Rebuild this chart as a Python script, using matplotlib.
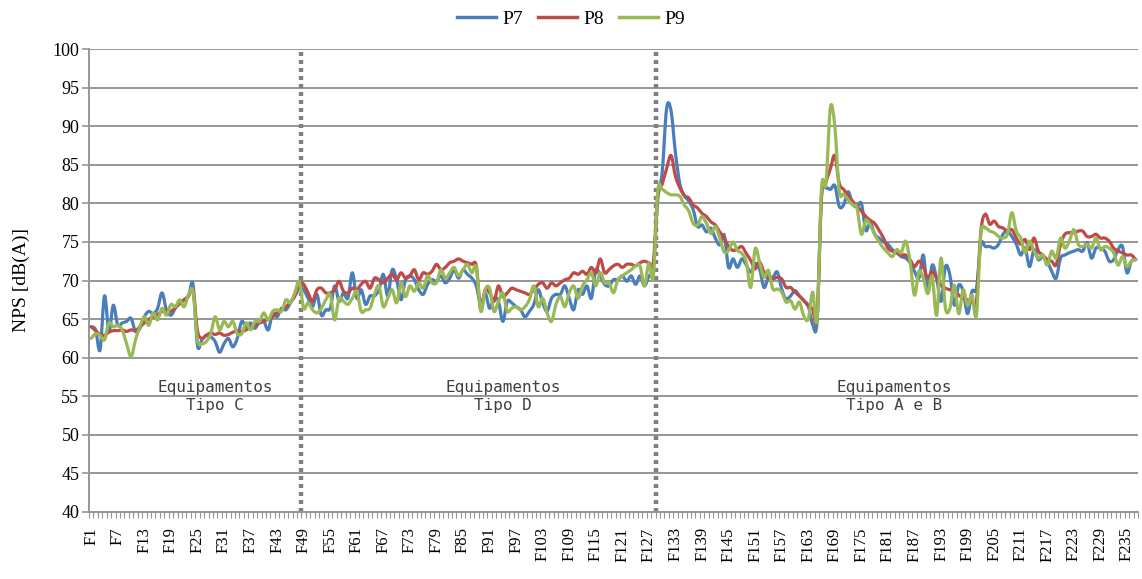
import numpy as np
import matplotlib
matplotlib.use("Agg")
import matplotlib.pyplot as plt
from matplotlib.path import Path
from matplotlib.patches import PathPatch
from matplotlib.lines import Line2D

categories = [f"F{i}" for i in range(1, 238)]

p7 = [
    64.0, 63.6, 61.0, 68.0, 63.4, 66.8, 64.2, 64.5, 64.7, 65.1,
    63.4, 63.8, 65.3, 66.0, 65.7, 66.4, 68.4, 66.2, 65.5, 66.4,
    67.1, 67.5, 68.0, 69.5, 61.6, 62.3, 62.9, 62.7, 62.1, 60.7,
    61.8, 62.5, 61.4, 62.5, 64.7, 64.0, 64.5, 63.8, 64.7, 64.7,
    63.6, 65.8, 65.3, 66.4, 66.2, 67.1, 68.0, 69.0,
    68.8, 67.7, 66.6, 68.2, 65.5, 66.2, 66.4, 69.3, 67.3, 68.4,
    67.7, 71.0, 67.7, 68.8, 66.9, 68.0, 68.0, 68.8, 70.8, 68.0,
    71.4, 70.1, 67.5, 70.1, 70.6, 70.1, 68.8, 68.2, 69.5, 70.1,
    69.9, 70.6, 69.7, 70.3, 71.4, 70.3, 71.4, 70.8, 70.3, 69.3,
    66.9, 68.4, 66.4, 67.7, 67.3, 64.7, 67.3, 67.1, 66.6, 66.2,
    65.3, 66.0, 66.9, 68.8, 67.1, 66.0, 67.7, 68.2, 68.2, 69.3,
    67.7, 66.2, 68.8, 68.2, 69.3, 67.7, 71.4, 70.6, 69.5, 69.3,
    70.1, 70.1, 70.6, 69.9, 70.6, 69.5, 70.6, 69.3, 70.6, 71.5,
    80.5, 84.0, 92.3, 92.0, 86.5, 82.5, 81.0, 80.3, 79.2, 77.0,
    77.2, 76.3, 76.8, 75.5, 74.6, 75.9, 71.7, 72.8, 71.7, 72.8,
    72.0, 71.1, 72.2, 71.5, 69.1, 70.4, 70.4, 71.1, 68.9, 67.6,
    68.0, 68.7, 68.0, 67.4, 66.7, 64.3, 64.8,
    81.0, 82.0, 81.8, 82.3, 79.6, 79.8, 81.5, 80.0, 79.5, 80.0,
    76.5, 77.5, 76.0, 75.5, 75.0,
    74.7, 74.0, 73.6, 73.1, 72.9, 72.3, 71.2, 70.3, 73.3, 68.6,
    72.0, 70.3, 67.3, 71.8, 70.7, 66.8, 69.4, 68.6, 65.7, 68.6,
    69.0, 74.7, 74.4, 74.4, 74.2, 74.7, 76.0, 76.4, 75.7, 74.7,
    73.3, 74.2, 71.8, 74.0, 72.7, 73.1, 72.5, 71.2, 70.3, 72.9,
    73.3, 73.6, 73.8, 74.0, 73.8, 74.9, 72.9, 74.2, 74.2, 73.8,
    72.5, 72.7, 74.0, 74.4, 71.0, 72.5, 72.7,
]

p8 = [
    64.0, 63.5, 63.0, 62.9, 63.3, 63.5, 63.5, 63.6, 63.4, 63.6,
    63.5, 64.0, 64.5, 65.0, 65.3, 65.6, 66.0, 66.2, 66.0, 66.5,
    67.0, 67.5, 68.0, 68.8, 63.5, 62.5, 62.9, 63.2, 63.0, 63.2,
    62.9, 63.0, 63.3, 63.5, 63.4, 63.6, 64.0, 64.2, 64.5, 64.7,
    65.0, 65.3, 65.8, 66.2, 66.6, 67.2, 68.0, 69.7,
    69.5, 68.4, 67.3, 68.8, 69.0, 68.4, 68.4, 68.8, 69.9, 68.6,
    68.4, 69.0, 68.8, 69.5, 69.9, 69.0, 70.3, 70.1, 69.7, 70.3,
    70.8, 70.1, 71.0, 70.3, 70.6, 71.4, 70.1, 71.0, 70.8, 71.2,
    72.1, 71.4, 71.7, 72.3, 72.5, 72.8, 72.5, 72.3, 72.1, 71.9,
    66.2, 68.8, 68.4, 67.3, 69.3, 67.9, 68.4, 69.0, 68.8, 68.6,
    68.4, 68.2, 68.8, 69.5, 69.7, 69.0, 69.7, 69.3, 69.7, 70.1,
    70.3, 71.0, 70.8, 71.2, 70.8, 71.7, 71.0, 72.8, 71.0, 71.4,
    71.9, 72.1, 71.7, 72.1, 72.1, 71.9, 72.3, 72.5, 72.3, 72.4,
    81.0, 82.5, 84.5, 86.2, 83.5, 82.0, 81.0, 80.7, 79.8, 79.4,
    78.7, 78.3, 77.6, 77.2, 76.3, 75.5, 74.4, 73.9, 74.1, 74.4,
    73.5, 72.6, 71.5, 72.4, 71.1, 70.4, 70.2, 70.4, 70.2, 69.1,
    69.1, 68.5, 68.0, 67.4, 66.7, 66.3, 65.2,
    81.0, 82.8, 84.5, 86.2, 82.6, 81.8, 81.0, 80.3, 79.6, 79.0,
    78.3, 77.8, 77.4, 76.5, 75.5,
    74.2, 73.8, 73.6, 73.3, 73.3, 72.7, 71.8, 72.5, 71.8, 70.3,
    71.2, 70.3, 69.4, 69.0, 68.8, 68.6, 68.1, 67.7, 67.5, 67.3,
    67.3, 76.4, 78.6, 77.3, 77.7, 77.0, 76.8, 76.4, 76.6, 75.5,
    74.7, 75.3, 74.0, 75.5, 73.8, 73.3, 72.7, 72.5, 72.0, 74.7,
    76.0, 76.2, 76.2, 76.4, 76.4, 75.7, 75.7, 76.0, 75.5, 75.5,
    75.1, 74.2, 73.8, 73.6, 73.3, 73.3, 72.7,
]

p9 = [
    62.5, 63.1, 62.9, 62.3, 64.5, 64.0, 64.2, 63.6, 61.8, 60.1,
    62.3, 64.0, 65.3, 64.2, 65.8, 64.9, 66.4, 65.5, 66.9, 66.6,
    67.5, 66.6, 68.2, 68.6, 62.3, 61.8, 62.1, 63.1, 65.3, 63.6,
    64.7, 64.0, 64.7, 63.1, 63.1, 64.5, 63.6, 64.7, 64.7, 65.8,
    64.9, 66.0, 66.2, 66.0, 67.5, 67.1, 68.4, 69.9,
    66.4, 67.1, 66.2, 65.8, 66.4, 67.5, 68.2, 64.9, 67.7, 67.3,
    66.9, 67.7, 68.6, 66.0, 66.2, 66.4, 68.2, 69.3, 66.6, 67.7,
    68.8, 67.1, 69.7, 67.9, 69.3, 68.6, 69.7, 69.0, 70.6, 69.7,
    69.7, 71.4, 70.3, 71.0, 71.7, 70.6, 71.4, 72.1, 71.0, 71.7,
    66.0, 68.8, 69.0, 66.0, 67.3, 68.4, 66.0, 66.4, 66.6, 66.2,
    66.6, 67.5, 69.3, 66.6, 67.7, 65.8, 64.7, 66.9, 67.9, 66.6,
    68.4, 69.3, 67.7, 69.3, 70.1, 71.0, 69.3, 71.0, 69.7, 69.7,
    68.4, 70.1, 70.6, 71.0, 71.4, 71.9, 71.9, 69.3, 72.3, 70.5,
    81.6, 81.8, 81.4, 81.1, 81.1, 80.9, 79.8, 79.0, 77.4, 77.2,
    78.3, 77.4, 76.1, 77.0, 75.5, 73.7, 73.9, 75.0, 73.9, 73.5,
    72.4, 69.1, 74.1, 72.4, 70.4, 71.3, 68.9, 68.9, 68.5, 67.2,
    67.4, 66.3, 67.2, 65.4, 65.0, 68.5, 65.0,
    82.0, 82.6, 92.4, 90.0, 81.6, 81.2, 80.5, 79.8, 79.4, 76.0,
    77.8, 77.2, 76.0, 75.0, 74.2,
    73.6, 73.1, 74.0, 73.6, 75.1, 72.5, 68.1, 71.2, 70.3, 68.3,
    70.5, 65.5, 72.9, 66.4, 66.4, 69.4, 65.7, 68.8, 66.8, 68.1,
    65.5, 76.0, 76.8, 76.4, 76.2, 75.7, 75.5, 76.0, 78.8, 76.4,
    75.5, 73.6, 75.1, 73.8, 72.9, 73.3, 72.0, 73.8, 72.9, 75.5,
    74.2, 75.1, 76.6, 74.7, 74.4, 74.7, 74.2, 75.5, 74.0, 74.4,
    74.2, 73.6, 72.0, 73.1, 71.8, 72.5, 72.7,
]

series_names = ["P7", "P8", "P9"]
colors = ["#4A7EBB", "#BE4B48", "#98B954"]
yticks = list(range(40, 101, 5))
section_bounds = [47.5, 127.5]
section_labels = [("Equipamentos\nTipo C", 28), ("Equipamentos\nTipo D", 93),
                  ("Equipamentos\nTipo A e B", 181.5)]

plt.rcParams['font.family'] = ['Liberation Serif', 'DejaVu Serif']

fig = plt.figure(figsize=(11.42, 5.79), dpi=100)
ax = fig.add_axes([89/1142, 1-512/579, (1138-89)/1142, (512-49)/579])

def smooth_path(xs, ys):
    pts = np.column_stack([xs, ys]).astype(float)
    n = len(pts)
    verts = [pts[0]]
    codes = [Path.MOVETO]
    for i in range(n - 1):
        p0 = pts[i - 1] if i > 0 else pts[i]
        p1 = pts[i]
        p2 = pts[i + 1]
        p3 = pts[i + 2] if i + 2 < n else pts[i + 1]
        c1 = p1 + (p2 - p0) / 6.0
        c2 = p2 - (p3 - p1) / 6.0
        verts += [c1, c2, p2]
        codes += [Path.CURVE4] * 3
    return Path(verts, codes)

x = np.arange(len(categories))
handles = []
for vals, name, col in zip([p7, p8, p9], series_names, colors):
    patch = PathPatch(smooth_path(x, vals), facecolor='none', edgecolor=col,
                      lw=2.3, capstyle='round', joinstyle='round', zorder=3)
    ax.add_patch(patch)
    handles.append(Line2D([], [], color=col, lw=2.5, label=name))

ax.set_xlim(-0.5, len(categories) - 0.5)
ax.set_ylim(40, 100)
ax.set_yticks(yticks)
ax.set_yticklabels([str(t) for t in yticks], fontsize=13)
ax.yaxis.grid(True, color='#969696', lw=1.4)
ax.set_axisbelow(True)

ax.set_xticks(x[::6])
ax.set_xticklabels(categories[::6], rotation=90, fontsize=12)
ax.set_xticks(np.arange(len(categories) + 1) - 0.5, minor=True)
ax.tick_params(axis='x', which='major', length=0, pad=11)
ax.tick_params(axis='x', which='minor', length=4, color='#969696', width=0.8)
ax.tick_params(axis='y', length=5, color='#969696', width=1.2, pad=2)

for s in ['top', 'right']:
    ax.spines[s].set_visible(False)
for s in ['left', 'bottom']:
    ax.spines[s].set_color('#969696')
    ax.spines[s].set_linewidth(1.4)

for b in section_bounds:
    ax.axvline(b, color='#7F7F7F', lw=3.2, linestyle=(0, (0.9, 0.9)), zorder=2)

for txt, xpos in section_labels:
    ax.text(xpos, 55, txt, ha='center', va='center', fontsize=11.5,
            family='DejaVu Sans Mono', color='#404040', linespacing=1.25)

ax.set_ylabel("NPS [dB(A)]", fontsize=14, labelpad=16)

fig.legend(handles=handles, loc='upper center', bbox_to_anchor=(0.5, 1.012),
           ncol=3, frameon=False, fontsize=14, handlelength=2.0,
           handletextpad=0.3, columnspacing=0.8)

fig.savefig("out.png", dpi=100)
